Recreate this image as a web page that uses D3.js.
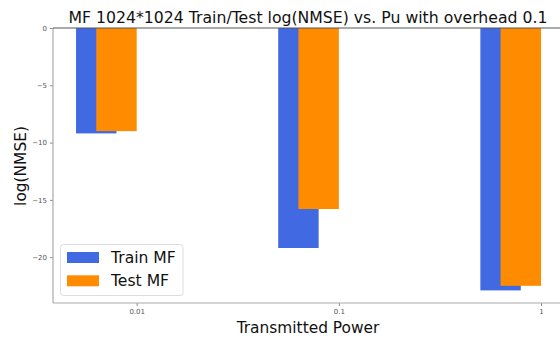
<!DOCTYPE html>
<html>
<head>
<meta charset="utf-8">
<script src="https://cdn.jsdelivr.net/npm/d3@7"></script>
<style>
  html, body { margin: 0; padding: 0; background: #fff; }
  svg { display: block; font-family: "DejaVu Sans", sans-serif; }
</style>
</head>
<body>
<svg id="chart" width="560" height="341"></svg>
<script>
// Transmitted power levels and log(NMSE) per model
const powers = ["0.01", "0.1", "1"];
const trainMF = [-9.2, -19.2, -22.9];
const testMF = [-9.0, -15.8, -22.5];
const yTicks = [0, -5, -10, -15, -20];

const series = [
  { name: "Train MF", values: trainMF, color: "#4169e1", offset: -0.3 },
  { name: "Test MF", values: testMF, color: "#ff8c00", offset: -0.2 }
];
const barWidth = 0.2;

const svg = d3.select("#chart");
const m = { left: 53, top: 28, right: 575, bottom: 303 };

const x = d3.scaleLinear().domain([0, 2]).range([136.7, 541]);
const y = d3.scaleLinear().domain([-24, 0]).range([m.bottom, m.top]);

// bars
series.forEach(s => {
  svg.append("g").selectAll("rect")
    .data(s.values)
    .join("rect")
    .attr("x", (d, i) => x(i + s.offset))
    .attr("width", (d, i) => x(i + s.offset + barWidth) - x(i + s.offset))
    .attr("y", d => y(0))
    .attr("height", d => y(d) - y(0))
    .attr("fill", s.color);
});

// axes
const yAxis = d3.axisLeft(y).tickValues(yTicks).tickSize(3).tickPadding(3)
  .tickFormat(d => d === 0 ? "0" : "\u2212" + Math.abs(d));
const gy = svg.append("g").attr("transform", `translate(${m.left},0)`).call(yAxis);
const xAxis = d3.axisBottom(x).tickValues([0, 1, 2]).tickSize(3).tickPadding(3)
  .tickFormat(i => powers[i]);
const gx = svg.append("g").attr("transform", `translate(0,${m.bottom})`).call(xAxis);

[gy, gx].forEach(g => {
  g.select(".domain").remove();
  g.selectAll(".tick line").attr("stroke", "#888");
  g.selectAll(".tick text").attr("fill", "#555").style("font-size", "7px")
    .style("font-family", "DejaVu Sans, sans-serif");
});

// spines
svg.append("line").attr("x1", m.left).attr("x2", m.left).attr("y1", m.top).attr("y2", m.bottom)
  .attr("stroke", "#aaa").attr("stroke-width", 1.2);
svg.append("line").attr("x1", m.left).attr("x2", m.right).attr("y1", m.bottom).attr("y2", m.bottom)
  .attr("stroke", "#aaa").attr("stroke-width", 1.2);
svg.append("line").attr("x1", m.left).attr("x2", m.right).attr("y1", m.top).attr("y2", m.top)
  .attr("stroke", "#555").attr("stroke-width", 1);

// title and axis labels
svg.append("text").attr("x", 308).attr("y", 23).attr("text-anchor", "middle")
  .style("font-size", "15.7px").attr("fill", "#111")
  .text("MF 1024*1024 Train/Test log(NMSE) vs. Pu with overhead 0.1");
svg.append("text").attr("x", 308).attr("y", 333).attr("text-anchor", "middle")
  .style("font-size", "15.4px").attr("fill", "#111").text("Transmitted Power");
svg.append("text").attr("transform", "translate(26,166) rotate(-90)").attr("text-anchor", "middle")
  .style("font-size", "15.4px").attr("fill", "#111").text("log(NMSE)");

// legend
const lg = svg.append("g");
lg.append("rect").attr("x", 60.5).attr("y", 244.5).attr("width", 122.5).attr("height", 51)
  .attr("rx", 3).attr("fill", "#fff").attr("fill-opacity", 0.8).attr("stroke", "#ddd");
series.forEach((s, i) => {
  const yy = 252 + i * 23.3;
  lg.append("rect").attr("x", 67).attr("y", yy).attr("width", 32).attr("height", 11).attr("fill", s.color);
  lg.append("text").attr("x", 111).attr("y", yy + 11).style("font-size", "15.6px").attr("fill", "#111").text(s.name);
});
</script>
</body>
</html>
